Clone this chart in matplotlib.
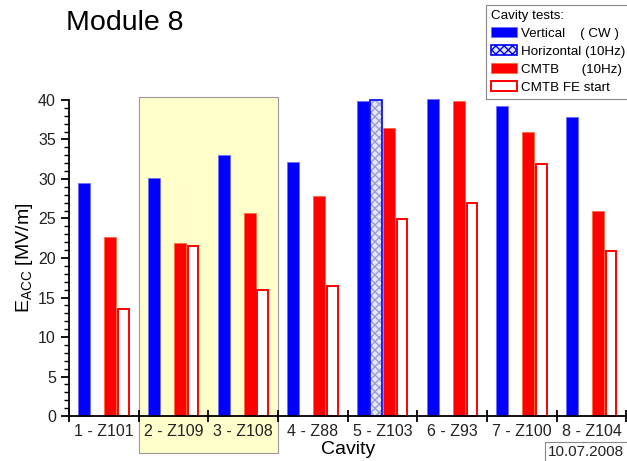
import matplotlib.pyplot as plt
import numpy as np
from matplotlib.patches import Rectangle

plt.rcParams['font.family'] = ['Liberation Sans', 'DejaVu Sans']

cavities = ['1 - Z101', '2 - Z109', '3 - Z108', '4 - Z88',
            '5 - Z103', '6 - Z93', '7 - Z100', '8 - Z104']
vertical = [29.5, 30.1, 33.1, 32.1, 39.9, 40.1, 39.2, 37.8]
horizontal = [np.nan, np.nan, np.nan, np.nan, 40.0, np.nan, np.nan, np.nan]
cmtb = [22.7, 21.9, 25.7, 27.8, 36.4, 39.9, 35.9, 26.0]
cmtb_fe = [13.5, 21.5, 16.0, 16.5, 24.9, 26.9, 31.9, 20.9]

x = np.arange(len(cavities))
w = 0.17
off = 0.187

fig = plt.figure(figsize=(6.27, 4.61), dpi=100)
ax = fig.add_axes([0.110, 0.0976, 0.889, 0.6855])

# shaded block behind cavities 2 and 3
ax.add_patch(Rectangle((0.5, -4.7), 2.0, 45.1, facecolor='#ffffcc',
                       edgecolor='#999999', lw=0.8, zorder=0.5, clip_on=False))

ax.bar(x - 1.5 * off, vertical, w, color='#0000ff', edgecolor='#6f6fff',
       lw=0.6, label='Vertical    ( CW )', zorder=2, clip_on=False)
ax.bar(x - 0.5 * off, horizontal, w, color='#e6e7ee', edgecolor='#95a0d8',
       hatch='xxxx', lw=0, zorder=2, clip_on=False)
ax.bar(x - 0.5 * off, horizontal, w, fill=False, edgecolor='#0000ff',
       lw=1.2, zorder=2.1, clip_on=False)
ax.bar(x + 0.5 * off, cmtb, w, color='#ff0000', edgecolor='#ff6a3a',
       lw=0.6, label='CMTB      (10Hz)', zorder=2, clip_on=False)
ax.bar(x + 1.5 * off, cmtb_fe, w - 0.02, color='white', edgecolor='#ff0000',
       lw=1.4, label='CMTB FE start', zorder=2, clip_on=False)

# legend handle for the hatched series, outlined in blue
h_patch = Rectangle((0, 0), 1, 1, facecolor='#e6e7ee', edgecolor='#0000ff',
                    hatch='xxxx', lw=1.2)

ax.set_xlim(-0.5, 7.5)
ax.set_ylim(0, 40)
for s in ['top', 'right']:
    ax.spines[s].set_visible(False)
ax.spines['bottom'].set_linewidth(1.3)
ax.spines['left'].set_linewidth(1.3)

ax.set_xticks(np.arange(-0.5, 8.0, 1.0))
ax.set_xticklabels([])
ax.set_xticks(x, minor=True)
ax.set_xticklabels(cavities, minor=True, fontsize=11.5, color='#222222')
ax.tick_params(axis='x', which='major', direction='inout', length=8, width=1.3)
ax.tick_params(axis='x', which='minor', length=0, pad=6)

ax.set_yticks(np.arange(0, 41, 5))
ax.set_yticks(np.arange(0, 41, 1), minor=True)
ax.tick_params(axis='y', which='major', direction='out', length=6, width=1.3,
               labelsize=11.5, labelcolor='#222222')
ax.tick_params(axis='y', which='minor', direction='out', length=3.5, width=1)

ax.set_ylabel(r'E$_{\mathregular{ACC}}$ [MV/m]', fontsize=14, labelpad=2)
ax.set_xlabel('Cavity', fontsize=14, labelpad=1)

fig.text(0.105, 0.935, 'Module 8', fontsize=20.5)

handles, labels = ax.get_legend_handles_labels()
handles.insert(1, h_patch)
labels.insert(1, 'Horizontal (10Hz)')
leg = fig.legend(handles, labels, loc='upper right',
                 bbox_to_anchor=(1.006, 0.99),
                 title='Cavity tests:', alignment='left', fontsize=9.6,
                 title_fontsize=9.6, fancybox=False, edgecolor='#888888',
                 framealpha=1, handlelength=2.0, handleheight=0.85,
                 handletextpad=0.3, labelspacing=0.38, borderpad=0.38,
                 borderaxespad=0)
leg.get_frame().set_linewidth(0.8)

fig.text(0.996, 0.004, '10.07.2008', ha='right', va='bottom', fontsize=11,
         color='#222222',
         bbox=dict(facecolor='white', edgecolor='#888888', lw=0.8,
                   boxstyle='square,pad=0.2'))

fig.savefig('out.png', dpi=100)
